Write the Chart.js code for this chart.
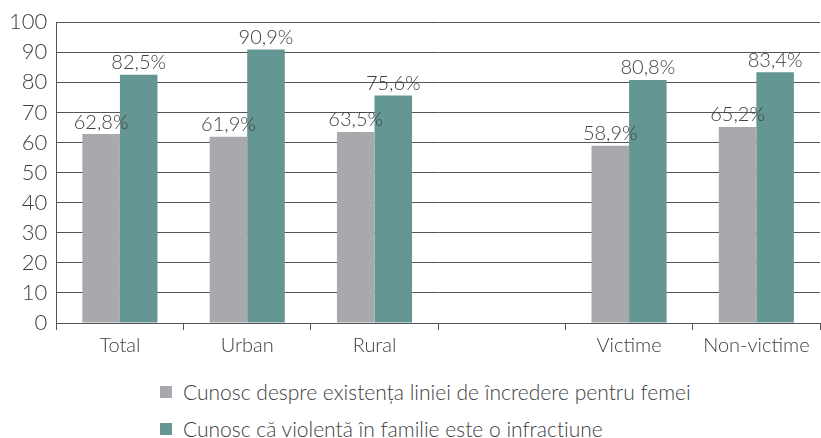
<!DOCTYPE html>
<html>
<head>
<meta charset="utf-8">
<script src="https://cdn.jsdelivr.net/npm/chart.js@4/dist/chart.umd.min.js"></script>
<style>
  body { margin: 0; background: #fff; font-family: Lato, sans-serif; font-weight: 300; }
  #wrap { position: relative; width: 821px; height: 362px; }
  #legend { position: absolute; left: 160px; top: 373px; color: #404040; font-size: 21px; }
  #legend div { height: 37px; display: flex; align-items: center; }
  #legend span { display: inline-block; width: 12px; height: 12px; margin-right: 11px; }
</style>
</head>
<body>
<div id="wrap"><canvas id="grafic"></canvas></div>
<div id="legend"></div>
<script>
const categorii = ["Total", "Urban", "Rural", "", "Victime", "Non-victime"];
const linieIncredere = [62.8, 61.9, 63.5, null, 58.9, 65.2];
const violentaInfractiune = [82.5, 90.9, 75.6, null, 80.8, 83.4];
const serii = ["Cunosc despre existența liniei de încredere pentru femei", "Cunosc că violentă în familie este o infracțiune"];
const culori = ["#a7a9ac", "#649693"];

const etichete = {
  id: "etichete",
  afterDatasetsDraw(chart) {
    const ctx = chart.ctx;
    ctx.save();
    ctx.font = "300 20px Lato";
    ctx.fillStyle = "#404040";
    ctx.textAlign = "center";
    ctx.textBaseline = "bottom";
    chart.data.datasets.forEach((ds, i) => {
      chart.getDatasetMeta(i).data.forEach((bar, j) => {
        const v = ds.data[j];
        if (v == null) return;
        ctx.fillText(v.toFixed(1).replace(".", ",") + "%", bar.x, bar.y - 2);
      });
    });
    ctx.restore();
  }
};

new Chart(document.getElementById("grafic"), {
  type: "bar",
  data: {
    labels: categorii,
    datasets: [
      { label: serii[0], data: linieIncredere, backgroundColor: culori[0] },
      { label: serii[1], data: violentaInfractiune, backgroundColor: culori[1] }
    ]
  },
  options: {
    responsive: true,
    maintainAspectRatio: false,
    animation: false,
    layout: { padding: { top: 18, right: 1 } },
    datasets: { bar: { categoryPercentage: 0.59, barPercentage: 1 } },
    plugins: { legend: { display: false }, tooltip: { enabled: false } },
    scales: {
      y: {
        min: 0, max: 100,
        ticks: { stepSize: 10, color: "#404040", font: { family: "Lato", size: 22, weight: "300" }, padding: 9 },
        grid: { color: "#555", tickLength: 0 },
        border: { color: "#555" }
      },
      x: {
        ticks: { color: "#404040", font: { family: "Lato", size: 20, weight: "300" }, padding: 4 },
        grid: { drawOnChartArea: false, color: "#555", tickLength: 7 },
        border: { color: "#555" }
      }
    }
  },
  plugins: [etichete]
});

const legenda = document.getElementById("legend");
serii.forEach((s, i) => {
  const d = document.createElement("div");
  d.innerHTML = '<span style="background:' + culori[i] + '"></span>' + s;
  legenda.appendChild(d);
});
</script>
</body>
</html>
